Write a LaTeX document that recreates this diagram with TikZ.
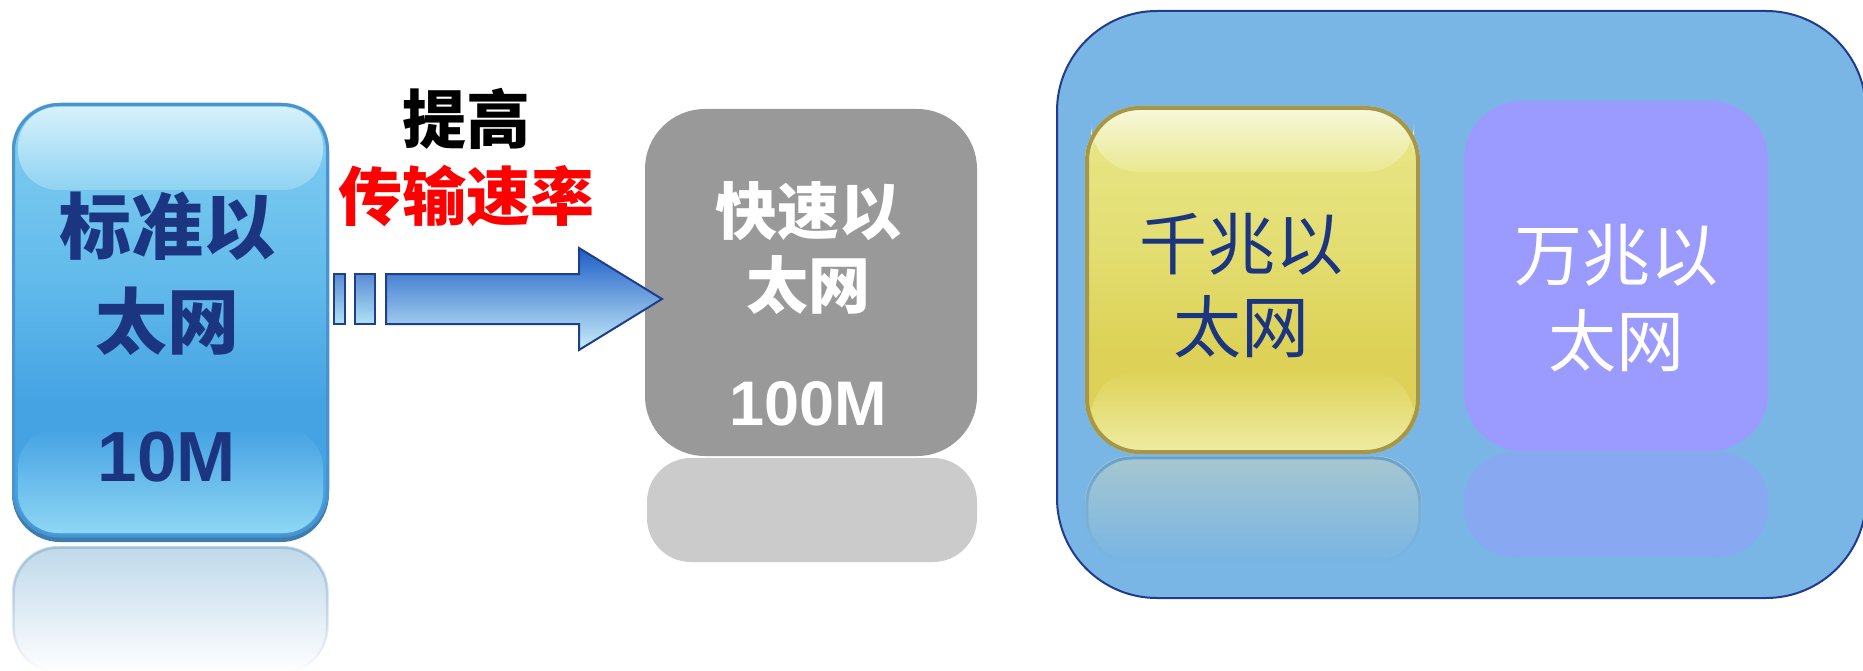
\documentclass[tikz,border=0pt]{standalone}
\usepackage{fontspec}
\setmainfont{Liberation Sans}
\newfontfamily\cjk{Noto Sans CJK SC}
\usetikzlibrary{fadings}
\definecolor{navy}{HTML}{1B3580}
\definecolor{bT}{HTML}{D6F1FB}
\definecolor{bH}{HTML}{8FD3F2}
\definecolor{bH2}{HTML}{84CFF1}
\definecolor{bM}{HTML}{62BBEB}
\definecolor{bL}{HTML}{45A2E3}
\definecolor{bB}{HTML}{8ED6F4}
\definecolor{yT}{HTML}{F7F7DA}
\definecolor{yH}{HTML}{EAE890}
\definecolor{yH2}{HTML}{E9E78A}
\definecolor{yM}{HTML}{E3DE72}
\definecolor{yL}{HTML}{DDD257}
\definecolor{yB}{HTML}{EEEBA0}
\definecolor{aT}{HTML}{1E5EC6}
\definecolor{aB}{HTML}{C8EEFA}
\definecolor{sT}{HTML}{5A8CD5}
\definecolor{sB}{HTML}{B0E2F5}
\definecolor{arrowline}{HTML}{1F3F8A}
\definecolor{grayfill}{HTML}{999999}
\definecolor{grayrefl}{HTML}{CBCBCB}
\definecolor{contfill}{HTML}{79B5E5}
\definecolor{contline}{HTML}{203C8A}
\definecolor{yline}{HTML}{A6964A}
\definecolor{purp}{HTML}{9B9BFF}
\definecolor{purprefl}{HTML}{89A8F2}
\definecolor{bline}{HTML}{4B93CE}
\definecolor{bshadow}{HTML}{3C7DB2}
\definecolor{brefl}{HTML}{B3D2E6}
\definecolor{brefline}{HTML}{9DBCD4}
\definecolor{yrefl}{HTML}{AFCBCB}
\definecolor{yrefline}{HTML}{5B9BD0}
\pgfdeclareverticalshading{bluebody}{100bp}{color(0bp)=(bL); color(25bp)=(bL); color(40bp)=(bL); color(55bp)=(bM); color(75bp)=(bH2); color(100bp)=(bH2)}
\pgfdeclareverticalshading{bluehi}{100bp}{color(0bp)=(bH); color(25bp)=(bH); color(75bp)=(bT); color(100bp)=(bT)}
\pgfdeclareverticalshading{blueband}{100bp}{color(0bp)=(bB); color(25bp)=(bB); color(75bp)=(bL); color(100bp)=(bL)}
\pgfdeclareverticalshading{yellowbody}{100bp}{color(0bp)=(yL); color(25bp)=(yL); color(40bp)=(yL); color(55bp)=(yM); color(75bp)=(yH2); color(100bp)=(yH2)}
\pgfdeclareverticalshading{yellowhi}{100bp}{color(0bp)=(yH); color(25bp)=(yH); color(75bp)=(yT); color(100bp)=(yT)}
\pgfdeclareverticalshading{yellowband}{100bp}{color(0bp)=(yB); color(25bp)=(yB); color(75bp)=(yL); color(100bp)=(yL)}
\pgfdeclareverticalshading{arrowbody}{100bp}{color(0bp)=(aB); color(25bp)=(aB); color(75bp)=(aT); color(100bp)=(aT)}
\pgfdeclareverticalshading{arrowsmall}{100bp}{color(0bp)=(sB); color(25bp)=(sB); color(75bp)=(sT); color(100bp)=(sT)}
\tikzfading[name=reflfade, top color=transparent!15, bottom color=transparent!100]
\tikzset{
  cjkbold/.style={inner sep=0pt, font=\fontsize{#1}{#1}\selectfont\cjk\bfseries},
  cjkreg/.style={inner sep=0pt, font=\fontsize{#1}{#1}\selectfont\cjk},
  latinbold/.style={inner sep=0pt, font=\fontsize{#1}{#1}\selectfont\bfseries},
}
\begin{document}
\begin{tikzpicture}[x=1pt,y=-1pt]
\useasboundingbox[fill=white] (0,0) rectangle (1863,671);
% ---- standard ethernet (blue) ----
\begin{scope}
  \clip (0,544) rectangle (340,671);
  \fill[brefl, path fading=reflfade, rounded corners=46pt] (12,546) rectangle (329,672);
  \draw[brefline, line width=2pt, path fading=reflfade, rounded corners=44pt] (14,548) rectangle (327,672);
\end{scope}
\fill[bshadow, rounded corners=48pt] (12,103) rectangle (329,542);
\shade[shading=bluebody, rounded corners=46pt] (12,103) rectangle (329,536);
\shade[shading=bluehi, rounded corners=40pt] (18,107) rectangle (323,190);
\shade[shading=blueband, rounded corners=40pt] (18,428) rectangle (323,533);
\draw[bline, line width=3pt, rounded corners=46pt] (13.5,104.5) rectangle (327.5,536);
\node[cjkbold=72, text=navy] (t1a) at (167,226) {标准以};
\node[cjkbold=72, text=navy] (t1b) at (167,321) {太网};
\node[latinbold=71, text=navy] (t1c) at (167,457) {10M};
% ---- label ----
\node[cjkbold=64, text=black] (l1) at (466,119) {提高};
\node[cjkbold=64, text=red] (l2) at (466,196) {传输速率};
% ---- fast ethernet (gray) ----
\fill[grayrefl, rounded corners=44pt] (647,458) rectangle (977,562);
\fill[grayfill, rounded corners=60pt] (645,109) rectangle (977,456);
\node[cjkbold=62, text=white] (t2a) at (808,211) {快速以};
\node[cjkbold=62, text=white] (t2b) at (808,285) {太网};
\node[latinbold=63, text=white] (t2c) at (808,404) {100M};
% ---- arrow ----
\shade[shading=arrowsmall, draw=arrowline, line width=2pt] (334,274) rectangle (345,324);
\shade[shading=arrowsmall, draw=arrowline, line width=2pt] (355,274) rectangle (375,324);
\shade[shading=arrowbody, draw=arrowline, line width=2pt] (386,274) -- (579,274) -- (579,248) -- (662,299) -- (579,350) -- (579,324) -- (386,324) -- cycle;
% ---- container ----
\draw[contline, fill=contfill, line width=2pt, rounded corners=100pt] (1057,11) rectangle (1866,598);
% gigabit (yellow)
\begin{scope}
  \clip (1080,455) rectangle (1430,562);
  \fill[yrefl, path fading=reflfade, rounded corners=46pt] (1085,456) rectangle (1422,562);
  \draw[yrefline, line width=3pt, path fading=reflfade, rounded corners=45pt] (1087,458) rectangle (1420,562);
\end{scope}
\shade[shading=yellowbody, rounded corners=55pt] (1085,106) rectangle (1420,454);
\shade[shading=yellowhi, rounded corners=48pt] (1091,110) rectangle (1414,172);
\shade[shading=yellowband, rounded corners=48pt] (1091,370) rectangle (1414,450);
\draw[yline, line width=4pt, rounded corners=53pt] (1087,108) rectangle (1418,452);
\node[cjkreg=68, text=navy] (t3a) at (1241,244) {千兆以};
\node[cjkreg=68, text=navy] (t3b) at (1241,327) {太网};
% 10G (purple)
\fill[purprefl, rounded corners=50pt] (1464,452) rectangle (1768,557);
\fill[purp, rounded corners=58pt] (1464,101) rectangle (1768,451);
\node[cjkreg=68, text=white] (t4a) at (1616,255) {万兆以};
\node[cjkreg=68, text=white] (t4b) at (1616,341) {太网};
\end{tikzpicture}
\end{document}
